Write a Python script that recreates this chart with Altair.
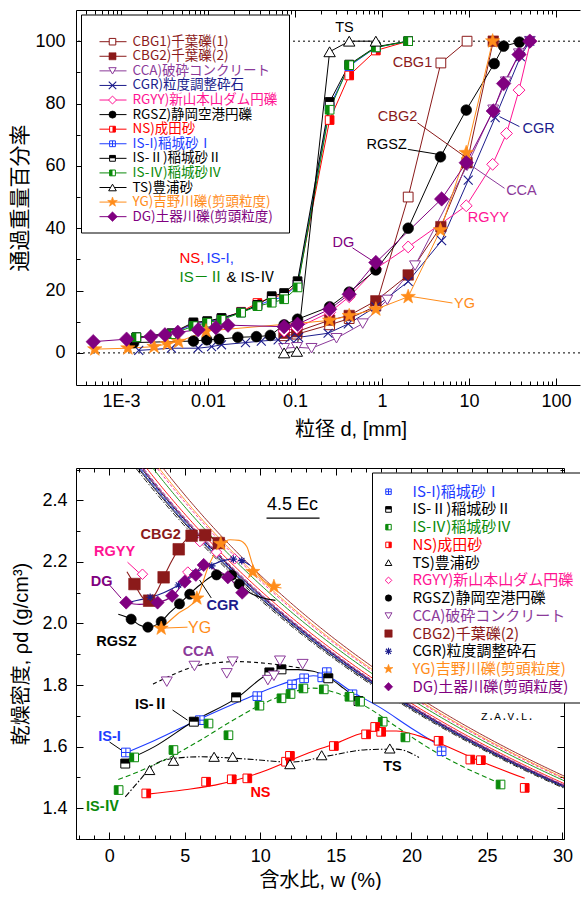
import altair as alt
import pandas as pd

FONT = "Liberation Sans, Arial, Noto Sans CJK JP, sans-serif"
JFONT = "Noto Sans CJK JP, Liberation Sans, sans-serif"

DARKRED = "#8B1A1A"; PURPLE = "#8B3A9A"; DGPURPLE = "#800080"; NAVY = "#1C1C8C"
PINK = "#FF1493"; RED = "#FF0000"; BLUE = "#1E3CFF"; GREEN = "#0A8A0A"
ORANGE = "#FF8C1A"; BLACK = "#000000"

# ======================= (a) grain size distribution =======================
D_CBG1 = [0.075, 0.105, 0.25, 0.42, 0.85, 2.0, 4.75, 9.5]
P_CBG1 = [5.5, 6.0, 9.0, 11.0, 15.0, 50.0, 93.0, 100.0]
D_CBG2 = [0.075, 0.105, 0.25, 0.42, 0.85, 2.0, 4.75, 9.5, 19.0]
P_CBG2 = [6.3, 6.8, 10.5, 12.0, 16.7, 25.0, 40.5, 61.0, 100.0]
D_CCA = [0.075, 0.105, 0.155, 0.3, 0.6, 1.15, 2.4, 9.5, 19.0, 26.5, 37.5, 50.0]
P_CCA = [1.5, 1.8, 1.5, 4.7, 9.4, 17.0, 28.0, 60.0, 78.0, 87.0, 96.0, 100.0]
D_CGR = [0.0016, 0.0038, 0.0077, 0.011, 0.0143, 0.027, 0.041, 0.064, 0.087, 0.11,
         0.24, 0.41, 0.85, 2.0, 4.85, 9.8, 20.0, 39.0, 50.0]
P_CGR = [0.8, 1.5, 1.5, 2.0, 2.6, 3.3, 3.8, 4.2, 4.7, 5.0,
         6.3, 9.3, 14.8, 22.9, 36.0, 55.4, 75.5, 95.0, 100.0]
D_RGYY = [0.075, 0.105, 0.25, 0.42, 0.85, 2.0, 9.3, 18.7, 27.0, 37.6, 51.0]
P_RGYY = [7.0, 8.0, 13.0, 18.0, 27.0, 34.0, 47.2, 60.5, 70.4, 84.3, 100.0]
D_RGSZ = [0.0014, 0.0068, 0.0097, 0.0134, 0.022, 0.036, 0.052, 0.075, 0.107,
          0.25, 0.42, 0.85, 2.0, 4.7, 9.3, 19.5, 25.0, 38.0]
P_RGSZ = [3.3, 3.8, 4.2, 4.4, 5.0, 5.2, 5.6, 9.0, 10.8,
          14.8, 19.5, 26.6, 40.0, 62.9, 77.9, 92.8, 98.4, 99.7]
D_IS = [0.0015, 0.0038, 0.0068, 0.0098, 0.0143, 0.024, 0.037, 0.054, 0.075, 0.107,
        0.25, 0.42, 0.85, 2.0]
P_NS = [5.0, 6.2, 9.4, 10.0, 11.0, 13.2, 16.0, 17.8, 18.7, 22.0, 74.7, 89.0, 97.0, 100.0]
P_IS1 = [5.0, 6.2, 9.2, 10.0, 11.0, 13.0, 15.2, 17.0, 18.0, 22.0, 79.0, 92.0, 98.0, 100.0]
P_IS2 = [5.0, 6.3, 9.8, 10.2, 11.2, 13.0, 15.4, 18.2, 19.2, 23.0, 80.5, 92.5, 98.2, 100.0]
P_IS4 = [5.0, 6.0, 8.6, 9.7, 10.6, 12.9, 15.0, 16.1, 17.2, 21.0, 78.0, 92.3, 98.0, 100.0]
D_TS = [0.075, 0.105, 0.25, 0.42, 0.85]
P_TS = [0.0, 0.5, 96.6, 100.0, 100.0]
D_YG = [0.0005, 0.0012, 0.0024, 0.0034, 0.0046, 0.0095, 0.25, 0.42, 0.85, 2.0, 4.7, 9.3, 18.7]
P_YG = [1.2, 1.5, 2.0, 2.9, 3.6, 7.0, 10.4, 11.9, 14.0, 18.0, 39.4, 64.2, 100.0]
D_DG = [0.00048, 0.00116, 0.0022, 0.0032, 0.0045, 0.0077, 0.0123, 0.017, 0.075, 0.107,
        0.25, 0.42, 0.85, 4.85, 9.3, 19.0, 25.0, 37.6, 50.0]
P_DG = [3.6, 4.4, 5.2, 5.8, 6.6, 7.4, 8.1, 8.9, 8.4, 9.2,
        14.0, 18.8, 29.0, 49.4, 61.0, 77.6, 86.4, 95.7, 100.0]

REF_P = [0, 100]
XTICKS_A = [0.001, 0.01, 0.1, 1, 10, 100]
XMINOR_A = [k * 10.0 ** e for e in range(-4, 3) for k in range(2, 10)
            if 3.05e-4 < k * 10.0 ** e < 188]
YTICKS_A = [0, 20, 40, 60, 80, 100]
YMINOR_A = [10, 30, 50, 70, 90]

# annotation texts (label, d, P, color)
ANN_A = [("TS", 0.371, 104.2, BLACK), ("CBG1", 2.24, 93.0, DARKRED),
         ("CBG2", 1.51, 75.7, DARKRED), ("RGSZ", 1.13, 66.7, BLACK),
         ("CGR", 63.0, 71.8, NAVY), ("CCA", 40.1, 51.9, PURPLE),
         ("RGYY", 16.7, 43.3, PINK), ("DG", 0.361, 35.3, DGPURPLE),
         ("YG", 8.87, 15.7, ORANGE)]
LEAD_A = [(2.56, 73.8, 9.04, 62.9, DARKRED), (1.98, 65.3, 4.2, 63.8, BLACK),
          (22.4, 75.8, 38.0, 72.6, NAVY), (10.6, 60.1, 25.6, 52.8, PURPLE),
          (0.458, 33.7, 0.752, 29.8, DGPURPLE), (1.96, 18.3, 6.46, 16.0, ORANGE)]
GROUP_A = [("NS,", 0.0047, 30.4, RED), ("IS-I,", 0.0096, 30.4, BLUE),
           ("IS－Ⅱ", 0.0047, 24.3, GREEN), ("& IS-Ⅳ", 0.0163, 24.3, BLACK)]

# ======================= (b) compaction curves =======================
W_IS1 = [1.1, 6.0, 9.8, 12.1, 12.9, 14.1, 14.4, 16.1, 22.0]
R_IS1 = [1.581, 1.686, 1.764, 1.802, 1.822, 1.825, 1.842, 1.77, 1.585]
W_IS2 = [1.06, 5.6, 8.4, 10.6, 11.4, 14.5, 16.5]
R_IS2 = [1.545, 1.681, 1.76, 1.841, 1.851, 1.822, 1.748]
W_IS4 = [0.62, 1.65, 4.25, 6.57, 7.89, 9.94, 11.4, 12.0, 12.85, 14.2, 15.9, 16.6, 18.1, 19.6, 25.9]
R_IS4 = [1.459, 1.565, 1.589, 1.675, 1.637, 1.733, 1.757, 1.771, 1.789, 1.786, 1.762, 1.746,
         1.681, 1.63, 1.477]
W_NS = [2.45, 6.41, 8.11, 9.14, 11.7, 11.96, 14.87, 17.0, 17.6, 18.0, 21.8, 23.9, 24.6, 27.5]
R_NS = [1.448, 1.486, 1.494, 1.497, 1.551, 1.57, 1.602, 1.64, 1.664, 1.648, 1.619, 1.558,
        1.556, 1.466]
W_TS = [2.67, 4.25, 6.94, 8.17, 11.96, 14.06, 18.57]
R_TS = [1.524, 1.554, 1.567, 1.567, 1.543, 1.572, 1.594]
W_CCA = [3.81, 5.64, 7.78, 8.17, 10.5, 10.9, 11.3, 12.8]
R_CCA = [1.811, 1.862, 1.838, 1.876, 1.816, 1.83, 1.879, 1.868]
W_CBG2 = [1.67, 2.64, 3.6, 4.6, 5.45, 6.35, 7.25]
R_CBG2 = [2.128, 2.074, 2.15, 2.241, 2.285, 2.287, 2.261]
W_RGYY = [2.2, 5.2, 6.0, 7.1, 8.3]
R_RGYY = [2.16, 2.167, 2.266, 2.232, 2.21]
W_RGSZ = [1.45, 2.56, 3.44, 4.65, 5.33, 7.1, 8.1, 8.6]
R_RGSZ = [2.014, 1.988, 2.006, 2.064, 2.095, 2.158, 2.157, 2.128]
W_CGR = [2.71, 4.58, 5.69, 6.79, 8.22, 8.77]
R_CGR = [2.085, 2.125, 2.165, 2.187, 2.209, 2.204]
W_YG = [3.44, 5.8, 7.38, 9.5, 10.9]
R_YG = [1.984, 2.082, 2.259, 2.168, 2.12]
W_DG = [1.12, 3.2, 4.16, 5.0, 5.73, 6.25, 7.85, 8.8]
R_DG = [2.068, 2.068, 2.09, 2.136, 2.158, 2.19, 2.15, 2.10]

# fitted curves
FW_IS1 = [1.1, 3.0, 6.0, 9.0, 11.0, 12.5, 13.5, 14.5, 16.0, 18.0, 20.0, 22.0]
FR_IS1 = [1.58, 1.62, 1.69, 1.755, 1.795, 1.82, 1.83, 1.825, 1.78, 1.725, 1.66, 1.60]
FW_IS2 = [1.1, 3.0, 5.5, 8.5, 10.5, 11.5, 12.5, 13.5, 14.5, 15.5, 16.5]
FR_IS2 = [1.555, 1.60, 1.68, 1.76, 1.835, 1.85, 1.85, 1.845, 1.825, 1.79, 1.75]
FW_IS4 = [0.6, 2.0, 4.0, 6.0, 8.0, 10.0, 12.0, 13.5, 15.0, 17.0, 19.0, 21.0, 23.0, 25.9]
FR_IS4 = [1.493, 1.52, 1.565, 1.62, 1.68, 1.735, 1.775, 1.79, 1.775, 1.73, 1.665, 1.60, 1.545, 1.48]
FW_NS = [2.4, 5.0, 7.0, 9.0, 10.5, 12.0, 13.5, 15.0, 16.5, 17.5, 19.0, 20.5, 22.0, 24.4, 27.5]
FR_NS = [1.445, 1.46, 1.475, 1.50, 1.525, 1.556, 1.585, 1.61, 1.64, 1.651, 1.651, 1.635,
         1.608, 1.556, 1.497]
FW_TS = [1.06, 2.0, 2.7, 4.0, 6.0, 9.0, 12.0, 14.5, 17.0, 19.0, 20.5]
FR_TS = [1.437, 1.49, 1.53, 1.56, 1.567, 1.56, 1.55, 1.57, 1.59, 1.592, 1.565]
FW_CCA = [2.9, 4.5, 5.6, 7.0, 8.5, 10.5, 12.7]
FR_CCA = [1.803, 1.84, 1.86, 1.872, 1.876, 1.87, 1.855]
FW_CBG2 = [1.17, 1.67, 2.2, 2.64, 3.1, 3.6, 4.1, 4.6, 5.45, 6.35, 7.25]
FR_CBG2 = [2.168, 2.128, 2.085, 2.072, 2.10, 2.15, 2.20, 2.241, 2.285, 2.287, 2.261]
FW_DG = [1.1, 2.0, 3.2, 4.2, 5.0, 5.7, 6.2, 7.0, 7.9, 8.8]
FR_DG = [2.068, 2.062, 2.068, 2.09, 2.135, 2.16, 2.19, 2.175, 2.15, 2.10]
FW_CGR = [1.4, 2.7, 3.6, 4.6, 5.7, 6.8, 7.6, 8.2, 8.8, 9.3]
FR_CGR = [2.07, 2.085, 2.10, 2.125, 2.165, 2.19, 2.205, 2.21, 2.204, 2.19]
FW_RGSZ = [0.6, 1.45, 2.0, 2.56, 3.44, 4.0, 4.65, 5.3, 6.0, 7.1, 8.1, 8.6, 9.3, 10.0, 11.0]
FR_RGSZ = [2.03, 2.014, 1.995, 1.988, 2.006, 2.035, 2.064, 2.095, 2.125, 2.158, 2.158, 2.13,
           2.10, 2.085, 2.075]
FW_YG = [3.44, 4.5, 5.8, 6.6, 7.4, 8.0, 8.6, 9.1, 9.5, 10.2, 10.9, 11.4]
FR_YG = [1.984, 2.03, 2.082, 2.19, 2.255, 2.272, 2.27, 2.25, 2.19, 2.14, 2.12, 2.115]

# zero-air-void lines: specific gravity of soil particles per material
ZAV_GS = [2.62, 2.63, 2.635, 2.64, 2.645, 2.65, 2.655, 2.67, 2.70, 2.72, 2.73, 2.75]
ZAV_STYLE = [(BLACK, [6, 2, 1.5, 2]), (BLACK, None), (NAVY, None), (BLUE, [4, 2]),
             (BLACK, None), (DGPURPLE, None), (PURPLE, [4, 2]), (RED, None),
             (GREEN, None), (PINK, [3, 2]), (ORANGE, None), (DARKRED, None)]

XTICKS_B = [0, 5, 10, 15, 20, 25, 30]
XMINOR_B = [v for v in range(-2, 31) if v % 5 != 0]
YTICKS_B = [1.4, 1.6, 1.8, 2.0, 2.2, 2.4]
YMINOR_B = [1.3, 1.5, 1.7, 1.9, 2.1, 2.3, 2.5]

ANN_B = [("CBG2", 3.40, 2.287, DARKRED, "bold"), ("RGYY", 0.35, 2.232, PINK, "bold"),
         ("DG", -0.51, 2.135, DGPURPLE, "bold"), ("CGR", 7.50, 2.057, NAVY, "bold"),
         ("YG", 5.98, 1.985, ORANGE, "normal"),
         ("RGSZ", 0.48, 1.94, BLACK, "bold"), ("CCA", 5.91, 1.907, PURPLE, "bold"),
         ("IS-Ⅱ", 2.80, 1.735, BLACK, "bold"), ("IS-I", 0.02, 1.631, BLUE, "bold"),
         ("IS-Ⅳ", -0.44, 1.404, GREEN, "bold"), ("NS", 10.01, 1.449, RED, "bold"),
         ("TS", 18.75, 1.534, BLACK, "bold")]
LEAD_B = [(1.21, 2.199, 2.14, 2.157, PINK), (0.02, 2.125, 0.79, 2.082, DGPURPLE),
          (6.75, 2.083, 5.98, 2.141, BLACK), (3.53, 1.985, 5.18, 1.988, ORANGE),
          (4.19, 1.719, 5.18, 1.686, BLACK), (0.02, 1.615, 1.01, 1.582, BLACK)]

# ======================= helpers =======================
XPATH = "M-1,-1L1,1M-1,1L1,-1"
ASTER = "M-1,0L1,0M0,-1L0,1M-0.72,-0.72L0.72,0.72M-0.72,0.72L0.72,-0.72"
STAR = ("M0,-1L0.235,-0.324L0.951,-0.309L0.38,0.124L0.588,0.809L0,0.4L-0.588,0.809"
        "L-0.38,0.124L-0.951,-0.309L-0.235,-0.324Z")
HALF = {"left": "M-1,-1L0,-1L0,1L-1,1Z", "right": "M0,-1L1,-1L1,1L0,1Z",
        "top": "M-1,-1L1,-1L1,0L-1,0Z"}
PLUS = "M-1,0L1,0M0,-1L0,1"
ONE = pd.DataFrame({"k": [0]})


def df_xy(xs, ys):
    return pd.DataFrame({"x": xs, "y": ys, "i": list(range(len(xs)))})


def marker_layers(data, enc, shape, style, color, size):
    c = alt.Chart(data)
    out = []
    if style == "filled":
        out.append(c.mark_point(shape=shape, size=size, filled=True, fill=color, stroke=color,
                                strokeWidth=0.6, opacity=1).encode(**enc))
    elif style == "stroke":
        out.append(c.mark_point(shape=shape, size=size, filled=False, stroke=color,
                                strokeWidth=1.1, opacity=1).encode(**enc))
    else:
        out.append(c.mark_point(shape=shape, size=size, filled=True, fill="white", stroke=color,
                                strokeWidth=1, opacity=1).encode(**enc))
        if style.startswith("half-"):
            out.append(c.mark_point(shape=HALF[style[5:]], size=size, filled=True, fill=color,
                                    strokeWidth=0, opacity=1).encode(**enc))
        elif style == "plus":
            out.append(c.mark_point(shape=PLUS, size=size, filled=False, stroke=color,
                                    strokeWidth=1, opacity=1).encode(**enc))
    return out


def axis_layers(xs, ys, xlab, ylab, xmaj, xmin, ymaj, ymin, right, probe):
    def lay(ax, ay):
        return alt.Chart(probe).mark_point(opacity=0).encode(
            x=alt.X("x:Q", scale=xs, axis=ax), y=alt.Y("y:Q", scale=ys, axis=ay))

    def tk(orient, vals, size):
        return alt.Axis(orient=orient, values=vals, labels=False, domain=False, title=None,
                        grid=False, ticks=True, tickSize=size, offset=-size,
                        tickColor="black", tickWidth=1)

    L = [lay(xlab, ylab)]
    L.append(lay(tk("bottom", xmaj, 7), tk("left", ymaj, 7)))
    L.append(lay(tk("top", xmaj, 7), tk("right", ymaj, 7) if right else None))
    L.append(lay(tk("bottom", xmin, 4), tk("left", ymin, 4)))
    L.append(lay(tk("top", xmin, 4), tk("right", ymin, 4) if right else None))
    frame_y = (alt.Axis(orient="right", domain=True, ticks=False, labels=False, title=None,
                        grid=False, domainColor="black") if right else None)
    L.append(lay(alt.Axis(orient="top", domain=True, ticks=False, labels=False, title=None,
                          grid=False, domainColor="black"), frame_y))
    return L


def text_layer(data, enc, label, color, size, weight="normal", align="center", font=FONT):
    return alt.Chart(data).mark_text(text=label, color=color, font=font, fontSize=size,
                                     fontWeight=weight, align=align,
                                     baseline="middle").encode(**enc)


# ======================= chart (a) =======================
WA, HA = 504, 375
XS_A = alt.Scale(type="log", domain=[3.04e-4, 188.8], nice=False)
YS_A = alt.Scale(domain=[-10.3, 110], nice=False, zero=False)
encA = dict(x=alt.X("x:Q", scale=XS_A, axis=None), y=alt.Y("y:Q", scale=YS_A, axis=None))

TOP_SERIES = [
    ("CBG1)千葉礫(1)", D_CBG1, P_CBG1, DARKRED, "square", "open", 95),
    ("CBG2)千葉礫(2)", D_CBG2, P_CBG2, DARKRED, "square", "filled", 110),
    ("CCA)破砕コンクリート", D_CCA, P_CCA, PURPLE, "triangle-down", "open", 120),
    ("CGR)粒度調整砕石", D_CGR, P_CGR, NAVY, XPATH, "stroke", 80),
    ("RGYY)新山本山ダム円礫", D_RGYY, P_RGYY, PINK, "diamond", "open", 140),
    ("RGSZ)静岡空港円礫", D_RGSZ, P_RGSZ, BLACK, "circle", "filled", 115),
    ("NS)成田砂", D_IS, P_NS, RED, "square", "half-right", 75),
    ("IS-I)稲城砂Ⅰ", D_IS, P_IS1, BLUE, "square", "plus", 75),
    ("IS-Ⅱ)稲城砂Ⅱ", D_IS, P_IS2, BLACK, "square", "half-top", 75),
    ("IS-Ⅳ)稲城砂Ⅳ", D_IS, P_IS4, GREEN, "square", "half-left", 75),
    ("TS)豊浦砂", D_TS, P_TS, BLACK, "triangle-up", "open", 130),
    ("YG)吉野川礫(剪頭粒度)", D_YG, P_YG, ORANGE, STAR, "filled", 230),
    ("DG)土器川礫(剪頭粒度)", D_DG, P_DG, DGPURPLE, "diamond", "filled", 210),
]

xlab_a = alt.Axis(orient="bottom", values=XTICKS_A, ticks=False, domain=True, domainColor="black",
                  labelExpr="datum.value < 0.005 ? '1E-3' : '' + datum.value",
                  labelFont=FONT, labelFontSize=18, labelColor="black", labelPadding=7,
                  labelFlush=False, labelOverlap=False, grid=False,
                  title="粒径 d, [mm]", titleFont=FONT, titleFontSize=20, titleFontWeight="normal",
                  titleColor="black", titleX=274.5, titleY=44, titleBaseline="middle",
                  titleAlign="center")
ylab_a = alt.Axis(orient="left", values=YTICKS_A, format="d", ticks=False, domain=True,
                  domainColor="black", labelFont=FONT, labelFontSize=18, labelColor="black",
                  labelPadding=11, labelFlush=False, grid=False,
                  title="通過重量百分率", titleFont=FONT, titleFontSize=21,
                  titleFontWeight="normal", titleColor="black", titleX=-55.5, titleY=HA / 2,
                  titleAngle=270, titleBaseline="middle", titleAlign="center")

la = axis_layers(XS_A, YS_A, xlab_a, ylab_a, XTICKS_A, XMINOR_A, YTICKS_A, YMINOR_A, False,
                 pd.DataFrame({"x": [0.01], "y": [50]}))
la.append(alt.Chart(pd.DataFrame({"y": REF_P})).mark_rule(
    color="black", strokeDash=[2, 3], strokeWidth=1).encode(y=alt.Y("y:Q", scale=YS_A, axis=None)))
for lab, d, p, col, shp, sty, sz in TOP_SERIES:
    df = df_xy(d, p)
    la.append(alt.Chart(df).mark_line(color=col, strokeWidth=1).encode(**encA, order="i:Q"))
for lab, d, p, col, shp, sty, sz in TOP_SERIES:
    la += marker_layers(df_xy(d, p), encA, shp, sty, col, sz)
for x1, y1, x2, y2, col in LEAD_A:
    la.append(alt.Chart(df_xy([x1, x2], [y1, y2])).mark_line(color=col, strokeWidth=1).encode(
        **encA, order="i:Q"))
for lab, x, y, col in ANN_A:
    la.append(text_layer(df_xy([x], [y]), encA, lab, col, 14.5))
for lab, x, y, col in GROUP_A:
    la.append(text_layer(df_xy([x], [y]), encA, lab, col, 15, align="left"))

# legend (a)
la.append(alt.Chart(ONE).mark_rect(fill="white", stroke="black", strokeWidth=1).encode(
    x=alt.value(5.5), x2=alt.value(213.5), y=alt.value(5), y2=alt.value(223)))
for i, (lab, d, p, col, shp, sty, sz) in enumerate(TOP_SERIES):
    yy = 31.7 + i * 14.58
    la.append(alt.Chart(ONE).mark_rule(color=col, strokeWidth=1).encode(
        x=alt.value(23.5), x2=alt.value(50.5), y=alt.value(yy)))
    la += marker_layers(ONE, dict(x=alt.value(36.5), y=alt.value(yy)), shp, sty, col,
                        sz * (0.7 if sty == "stroke" else 0.45))
    la.append(text_layer(ONE, dict(x=alt.value(56.5), y=alt.value(yy)), lab, col, 13.5,
                         align="left", font=JFONT))
# anchor for the page's top-left corner
la.append(alt.Chart(ONE).mark_rule(strokeOpacity=0, strokeWidth=1).encode(
    x=alt.value(-76), y=alt.value(-9.5), y2=alt.value(-5)))

chart_a = alt.layer(*la).resolve_axis(x="independent", y="independent").properties(
    width=WA, height=HA)

# ======================= chart (b) =======================
WB, HB = 488, 371
XS_B = alt.Scale(domain=[-2.2, 30.1], nice=False, zero=False)
YS_B = alt.Scale(domain=[1.3, 2.505], nice=False, zero=False)
encB = dict(x=alt.X("x:Q", scale=XS_B, axis=None), y=alt.Y("y:Q", scale=YS_B, axis=None))

BOT_SERIES = [
    ("IS-I)稲城砂Ⅰ", W_IS1, R_IS1, BLUE, "square", "plus", 75, BLUE),
    ("IS-Ⅱ)稲城砂Ⅱ", W_IS2, R_IS2, BLACK, "square", "half-top", 80, BLACK),
    ("IS-Ⅳ)稲城砂Ⅳ", W_IS4, R_IS4, GREEN, "square", "half-left", 75, GREEN),
    ("NS)成田砂", W_NS, R_NS, RED, "square", "half-right", 75, RED),
    ("TS)豊浦砂", W_TS, R_TS, BLACK, "triangle-up", "open", 110, BLACK),
    ("RGYY)新山本山ダム円礫", W_RGYY, R_RGYY, PINK, "diamond", "open", 110, PINK),
    ("RGSZ)静岡空港円礫", W_RGSZ, R_RGSZ, BLACK, "circle", "filled", 105, BLACK),
    ("CCA)破砕コンクリート", W_CCA, R_CCA, PURPLE, "triangle-down", "open", 120, PURPLE),
    ("CBG2)千葉礫(2)", W_CBG2, R_CBG2, DARKRED, "square", "filled", 135, DARKRED),
    ("CGR)粒度調整砕石", W_CGR, R_CGR, NAVY, ASTER, "stroke", 55, BLACK),
    ("YG)吉野川礫(剪頭粒度)", W_YG, R_YG, ORANGE, STAR, "filled", 220, ORANGE),
    ("DG)土器川礫(剪頭粒度)", W_DG, R_DG, DGPURPLE, "diamond", "filled", 175, DGPURPLE),
]
FITS = [(FW_IS1, FR_IS1, BLUE, None), (FW_IS2, FR_IS2, BLACK, None),
        (FW_IS4, FR_IS4, GREEN, [5, 3]), (FW_NS, FR_NS, RED, None),
        (FW_TS, FR_TS, BLACK, [6, 2, 1.5, 2]), (FW_CCA, FR_CCA, BLACK, [4, 3]),
        (FW_CBG2, FR_CBG2, DARKRED, None), (FW_DG, FR_DG, DGPURPLE, None),
        (FW_CGR, FR_CGR, NAVY, None), (FW_RGSZ, FR_RGSZ, BLACK, None),
        (FW_YG, FR_YG, ORANGE, None)]

xlab_b = alt.Axis(orient="bottom", values=XTICKS_B, ticks=False, domain=True, domainColor="black",
                  format="d", labelFont=FONT, labelFontSize=18, labelColor="black", labelPadding=8,
                  labelFlush=False, grid=False, title="含水比, w (%)", titleFont=FONT,
                  titleFontSize=20, titleFontWeight="normal", titleColor="black",
                  titleX=WB / 2, titleY=41, titleBaseline="middle", titleAlign="center")
ylab_b = alt.Axis(orient="left", values=YTICKS_B, format=".1f", ticks=False, domain=True,
                  domainColor="black", labelFont=FONT, labelFontSize=18, labelColor="black",
                  labelPadding=9, labelFlush=False, grid=False,
                  title="乾燥密度, ρd (g/cm³)", titleFont=FONT, titleFontSize=20,
                  titleFontWeight="normal", titleColor="black", titleX=-54.5, titleY=HB / 2,
                  titleAngle=270, titleBaseline="middle", titleAlign="center")

lb = axis_layers(XS_B, YS_B, xlab_b, ylab_b, XTICKS_B, XMINOR_B, YTICKS_B, YMINOR_B, True,
                 pd.DataFrame({"x": [10], "y": [1.8]}))
for gs, (col, dash) in zip(ZAV_GS, ZAV_STYLE):
    kw = dict(color=col, strokeWidth=0.9, clip=True)
    if dash:
        kw["strokeDash"] = dash
    lb.append(alt.Chart(alt.sequence(0, 30.15, 0.1, as_="w")).transform_calculate(
        x="datum.w", y=f"{gs} / (1 + datum.w * {gs} / 100)").transform_filter(
        "datum.y <= 2.505").mark_line(**kw).encode(**encB))
for fw, fr, col, dash in FITS:
    kw = dict(color=col, strokeWidth=1.1, interpolate="monotone")
    if dash:
        kw["strokeDash"] = dash
    lb.append(alt.Chart(df_xy(fw, fr)).mark_line(**kw).encode(**encB, order="i:Q"))
for x1, y1, x2, y2, col in LEAD_B:
    lb.append(alt.Chart(df_xy([x1, x2], [y1, y2])).mark_line(color=col, strokeWidth=1).encode(
        **encB, order="i:Q"))
for lab, w, r, col, shp, sty, sz, tcol in BOT_SERIES:
    lb += marker_layers(df_xy(w, r), encB, shp, sty, col, sz)
for lab, x, y, col, wt in ANN_B:
    lb.append(text_layer(df_xy([x], [y]), encB, lab, col, 14.5 if wt == "bold" else 16,
                         weight=wt))
lb.append(text_layer(df_xy([12.13], [2.385]), encB, "4.5 Ec", BLACK, 18))
lb.append(alt.Chart(df_xy([10.41, 13.92], [2.342, 2.342])).mark_line(
    color="black", strokeWidth=1.2).encode(**encB, order="i:Q"))
lb.append(text_layer(df_xy([26.36], [1.696]), encB, "Z.A.V.L.", BLACK, 11,
                     font="Liberation Mono, DejaVu Sans Mono, monospace"))

# legend (b)
lb.append(alt.Chart(ONE).mark_rect(fill="white", strokeWidth=0).encode(
    x=alt.value(296.5), x2=alt.value(504), y=alt.value(5), y2=alt.value(235)))
for yv in (5, 235):
    lb.append(alt.Chart(ONE).mark_rule(color="black", strokeWidth=1).encode(
        x=alt.value(296.5), x2=alt.value(504), y=alt.value(yv)))
lb.append(alt.Chart(ONE).mark_rule(color="black", strokeWidth=1).encode(
    x=alt.value(296.5), y=alt.value(5), y2=alt.value(235)))
for i, (lab, w, r, col, shp, sty, sz, tcol) in enumerate(BOT_SERIES):
    yy = 23.7 + i * 17.73
    lb += marker_layers(ONE, dict(x=alt.value(312.5), y=alt.value(yy)), shp, sty, col,
                        sz * (0.9 if sty == "stroke" else 0.4))
    lb.append(text_layer(ONE, dict(x=alt.value(336.5), y=alt.value(yy)), lab, tcol, 15,
                         align="left", font=JFONT))

chart_b = alt.layer(*lb).resolve_axis(x="independent", y="independent").properties(
    width=WB, height=HB)

chart = alt.vconcat(chart_a, chart_b, spacing=83, bounds="flush").properties(
    padding={"left": 0, "top": 0, "right": 0, "bottom": 0}
).configure_view(stroke=None).configure_axis(grid=False)

chart.save("out.html", embed_options={"renderer": "svg", "actions": False})
